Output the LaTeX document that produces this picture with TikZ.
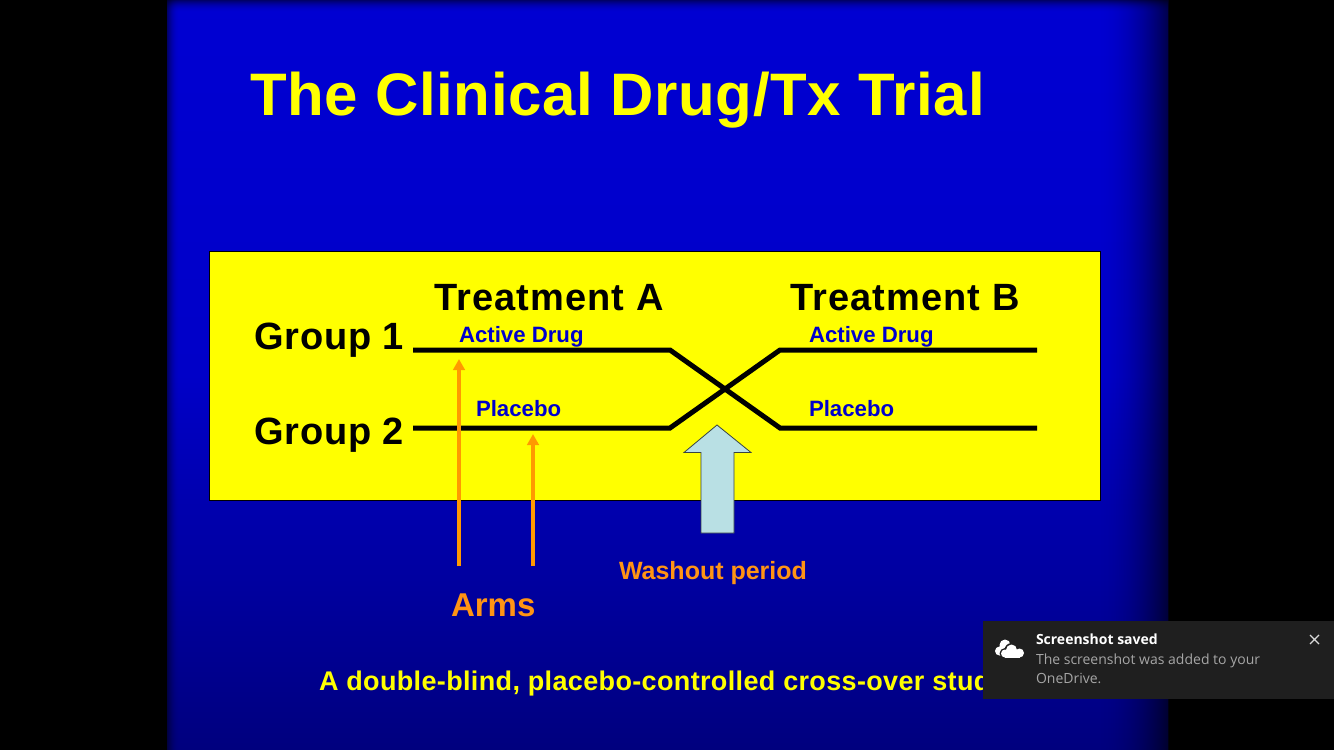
\documentclass[tikz,border=0pt]{standalone}
\usepackage{fontspec}
\setmainfont{Liberation Sans}
\newfontfamily\toastfont{Open Sans}
\newfontfamily\titlefont[LetterSpace=1.1]{Liberation Sans}
\newfontfamily\headfont[LetterSpace=2.3]{Liberation Sans}
\newfontfamily\trtfont[LetterSpace=2.9]{Liberation Sans}
\newfontfamily\footfont[LetterSpace=1.3]{Liberation Sans}
\usetikzlibrary{arrows.meta}
\definecolor{slideTop}{HTML}{0000D2}
\definecolor{slideBot}{HTML}{00007E}
\definecolor{bandY}{HTML}{FFFF00}
\definecolor{armO}{HTML}{FF9900}
\definecolor{washO}{HTML}{FF9414}
\definecolor{inkB}{HTML}{0000CC}
\definecolor{paleB}{HTML}{B9E0E4}
\definecolor{toastBg}{HTML}{1F1F1F}
\definecolor{toastGrey}{HTML}{A6A6A6}
\newcommand{\fsz}[1]{\fontsize{#1}{#1}\selectfont}
\tikzset{
  x=1pt,y=-1pt,
  lab/.style={anchor=base west,inner sep=0pt,outer sep=0pt,font=\bfseries},
  arm/.style={black,line width=5pt,line join=miter,line cap=butt},
  armarrow/.style={armO,line width=3.8pt,-{Triangle[width=11.5pt,length=11pt]}},
}
\begin{document}
\begin{tikzpicture}
\useasboundingbox (0,0) rectangle (1334,750);
\fill[black] (0,0) rectangle (1334,750);
\shade[top color=slideTop,bottom color=slideBot,middle color=slideTop!88!slideBot] (167,0) rectangle (1168,750);
% darkened edges of the slide
\foreach \i in {0,...,69}{
  \pgfmathsetmacro{\op}{0.62*(1-\i/70)^2}
  \fill[black,opacity=\op] ({1168-\i-1},0) rectangle ({1168-\i},750);
}
\foreach \i in {0,...,11}{
  \pgfmathsetmacro{\op}{0.5*(1-\i/12)^2}
  \fill[black,opacity=\op] (\i+167,0) rectangle (\i+168,750);
  \fill[black,opacity=\op] (167,\i) rectangle (1168,\i+1);
}
\node[lab,text=bandY,font=\bfseries\titlefont\bfseries\fsz{60}] (title) at (250,115) {The Clinical Drug/Tx Trial};
\node[draw=black,line width=0.6pt,fill=bandY,minimum width=891pt,minimum height=249pt,inner sep=0pt,outer sep=0pt,anchor=north west] (panel) at (209.7,251) {};
\node[lab,font=\trtfont\bfseries\fsz{38}] (ta) at (434,310) {Treatment A};
\node[lab,font=\trtfont\bfseries\fsz{38}] (tb) at (790,310) {Treatment B};
\node[lab,font=\headfont\bfseries\fsz{38}] (g1) at (254,349) {Group 1};
\node[lab,font=\headfont\bfseries\fsz{38}] (g2) at (254,444) {Group 2};
\node[lab,text=inkB,font=\bfseries\fsz{22.2}] (ad1) at (459,342) {Active Drug};
\node[lab,text=inkB,font=\bfseries\fsz{22.2}] (ad2) at (809,342) {Active Drug};
\node[lab,text=inkB,font=\bfseries\fsz{22.2}] (pl1) at (476,416) {Placebo};
\node[lab,text=inkB,font=\bfseries\fsz{22.2}] (pl2) at (809,416) {Placebo};
\coordinate (a1) at (413,350);
\coordinate (a2) at (670,350);
\coordinate (a3) at (780,428);
\coordinate (a4) at (1037,428);
\coordinate (b1) at (413,428);
\coordinate (b2) at (670,428);
\coordinate (b3) at (780,350);
\coordinate (b4) at (1037,350);
\draw[arm] (a1) -- (a2) -- (a3) -- (a4);
\draw[arm] (b1) -- (b2) -- (b3) -- (b4);
\coordinate (ar1s) at (459,566);
\coordinate (ar1e) at (459,359);
\coordinate (ar2s) at (533,566);
\coordinate (ar2e) at (533,434);
\draw[armarrow] (ar1s) -- (ar1e);
\draw[armarrow] (ar2s) -- (ar2e);
\draw[fill=paleB,draw=black!70!paleB,line width=0.8pt,line join=miter]
  (717,425) -- (751,452.5) -- (734,452.5) -- (734,533) -- (701,533) -- (701,452.5) -- (684,452.5) -- cycle;
\node[lab,text=washO,font=\bfseries\fsz{25}] (wash) at (619,579) {Washout period};
\node[lab,text=washO,font=\bfseries\fsz{33}] (arms) at (451,616) {Arms};
\node[lab,text=bandY,font=\footfont\bfseries\fsz{27}] (foot) at (319,690) {A double-blind, placebo-controlled cross-over stud};
% notification
\node[fill=toastBg,minimum width=351pt,minimum height=78pt,inner sep=0pt,outer sep=0pt,anchor=north west] (toast) at (983,621) {};
% cloud icon: back cloud, gap, front cloud
\foreach \cx/\cy/\r in {1005/645/5.5,999.5/651/4.5,1003/650/5}{\fill[white] (\cx,\cy) circle (\r);}
\fill[white] (999.5,650) rectangle (1006,655.5);
\foreach \cx/\cy/\r in {1011.5/650/7,1005/653.5/5.5,1019.5/653/6}{\fill[toastBg] (\cx,\cy) circle (\r);}
\fill[toastBg] (1003,654) rectangle (1022,660);
\foreach \cx/\cy/\r in {1011.5/650/5.5,1005/653.5/4,1019.5/653/4.5}{\fill[white] (\cx,\cy) circle (\r);}
\fill[white] (1005,651) rectangle (1019.5,657.5);
\node[lab,text=white,font=\toastfont\fsz{14}] (tt) at (1036,644) {\textbf{Screenshot saved}};
\node[lab,text=toastGrey,font=\toastfont\fsz{14}] (t1) at (1036,664) {The screenshot was added to your};
\node[lab,text=toastGrey,font=\toastfont\fsz{14}] (t2) at (1036,683) {OneDrive.};
\draw[white!85!black,line width=1.2pt] (1310,635) -- (1319,644) (1319,635) -- (1310,644);
\end{tikzpicture}
\end{document}
